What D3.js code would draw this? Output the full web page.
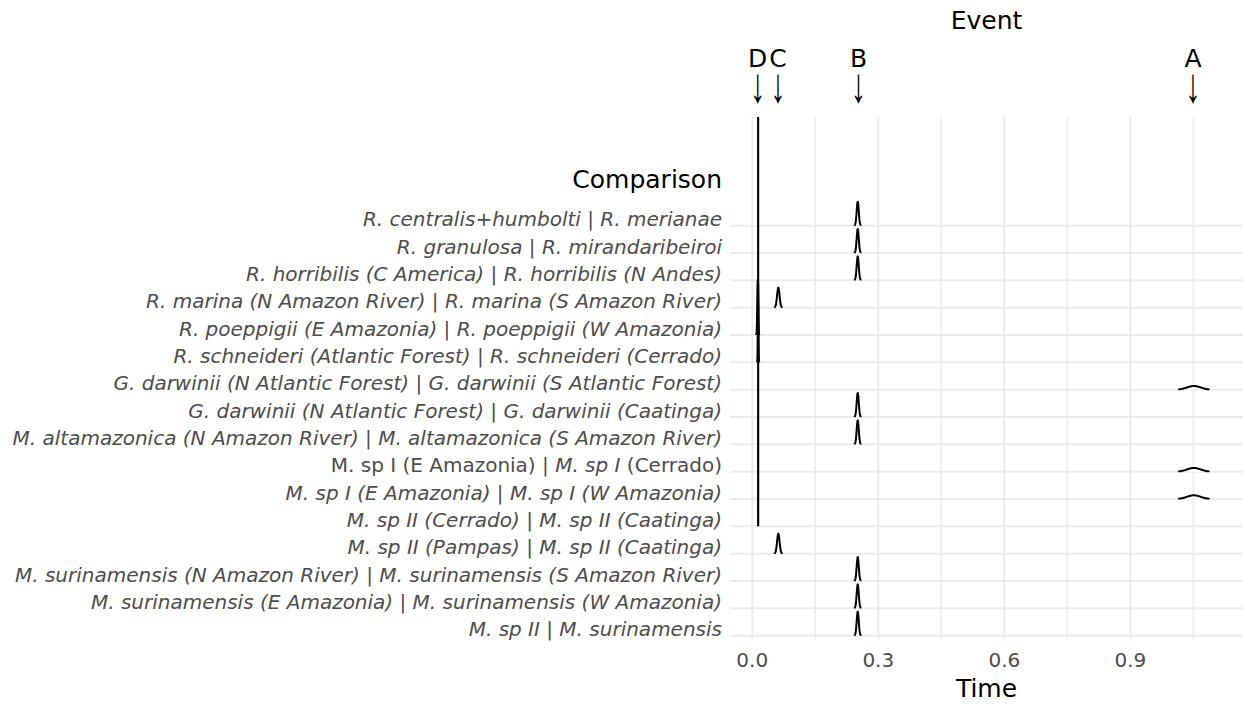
<!DOCTYPE html>
<html>
<head>
<meta charset="utf-8">
<script src="https://cdn.jsdelivr.net/npm/d3@7/dist/d3.min.js"></script>
<style>
  html, body { margin: 0; padding: 0; background: #ffffff; }
  svg { display: block; font-family: "DejaVu Sans", sans-serif; }
  .arrow { -webkit-font-smoothing: antialiased; text-rendering: geometricPrecision; }
</style>
</head>
<body>
<svg id="chart" width="1243" height="705"></svg>
<script>
// Comparisons (top to bottom); *...* marks italic runs
const rowLabels = [
  "*R. centralis+humbolti | R. merianae*",
  "*R. granulosa | R. mirandaribeiroi*",
  "*R. horribilis (C America) | R. horribilis (N Andes)*",
  "*R. marina (N Amazon River) | R. marina (S Amazon River)*",
  "*R. poeppigii (E Amazonia) | R. poeppigii (W Amazonia)*",
  "*R. schneideri (Atlantic Forest) | R. schneideri (Cerrado)*",
  "*G. darwinii (N Atlantic Forest) | G. darwinii (S Atlantic Forest)*",
  "*G. darwinii (N Atlantic Forest) | G. darwinii (Caatinga)*",
  "*M. altamazonica (N Amazon River) | M. altamazonica (S Amazon River)*",
  "M. sp I (E Amazonia) | *M. sp I* (Cerrado)",
  "*M. sp I (E Amazonia) | M. sp I (W Amazonia)*",
  "*M. sp II (Cerrado) | M. sp II (Caatinga)*",
  "*M. sp II (Pampas) | M. sp II (Caatinga)*",
  "*M. surinamensis (N Amazon River) | M. surinamensis (S Amazon River)*",
  "*M. surinamensis (E Amazonia) | M. surinamensis (W Amazonia)*",
  "*M. sp II | M. surinamensis*"
];

// Event assigned to each comparison, posterior centre and spread of divergence time
const rowEvent  = ["B", "B", "B", "C", "D", "D", "A", "B", "B", "A", "A", "D", "C", "B", "B", "B"];
const rowCenter = [0.251, 0.251, 0.251, 0.062, 0.013, 0.014, 1.051, 0.251, 0.251, 1.051, 1.051, 0.014, 0.062, 0.251, 0.251, 0.251];
const rowSpread = [0.0025, 0.0025, 0.0025, 0.003, 0.00109, 0.00075, 0.016, 0.0025, 0.0025, 0.016, 0.016, 0.0000855, 0.003, 0.0025, 0.0025, 0.0025];

// Events shown on the top axis
const eventNames = ["D", "C", "B", "A"];
const eventTimes = [0.013, 0.061, 0.253, 1.049];

// Time axis
const majorTicks = [0, 0.3, 0.6, 0.9];
const minorTicks = [0.15, 0.45, 0.75, 1.05];
const timeDomain = [-0.053, 1.168];

const svg = d3.select("#chart");
const panel = { left: 730, right: 1243, top: 117, bottom: 639 };

const x = d3.scaleLinear().domain(timeDomain).range([panel.left, panel.right]);
const y = d3.scalePoint().domain(d3.range(rowLabels.length))
  .range([panel.top + 108.7, panel.bottom - 3.3]);

// density units -> pixels of ridge height
const ridgeHeight = d3.scaleLinear().domain([0, 160]).range([0, 24]);

// grid
const grid = svg.append("g");
grid.selectAll("line.minor").data(minorTicks).join("line")
  .attr("x1", d => x(d)).attr("x2", d => x(d))
  .attr("y1", panel.top).attr("y2", panel.bottom)
  .attr("stroke", "#ebebeb").attr("stroke-width", 1.6);
grid.selectAll("line.major").data(majorTicks).join("line")
  .attr("x1", d => x(d)).attr("x2", d => x(d))
  .attr("y1", panel.top).attr("y2", panel.bottom)
  .attr("stroke", "#ebebeb").attr("stroke-width", 2);
grid.selectAll("line.row").data(d3.range(rowLabels.length)).join("line")
  .attr("x1", panel.left).attr("x2", panel.right)
  .attr("y1", d => y(d)).attr("y2", d => y(d))
  .attr("stroke", "#ebebeb").attr("stroke-width", 2);

// ridges
svg.append("clipPath").attr("id", "panel-clip").append("rect")
  .attr("x", panel.left).attr("y", panel.top)
  .attr("width", panel.right - panel.left).attr("height", panel.bottom - panel.top);

function ridgePoints(mu, sd) {
  const pts = [];
  const n = 400;
  for (let i = 0; i <= n; i++) {
    const t = mu - 4 * sd + (8 * sd) * i / n;
    const z = (t - mu) / sd;
    const dens = Math.exp(-0.5 * z * z) / (sd * Math.sqrt(2 * Math.PI));
    pts.push([t, dens]);
  }
  const vis = pts.filter(p => ridgeHeight(p[1]) >= 0.3);
  const lo = vis[0][0], hi = vis[vis.length - 1][0];
  return [[lo, 0], ...vis, [hi, 0]];
}

const ridges = svg.append("g").attr("clip-path", "url(#panel-clip)");
d3.range(rowLabels.length).forEach(i => {
  const pts = ridgePoints(rowCenter[i], rowSpread[i]);
  const base = y(i);
  ridges.append("path")
    .attr("d", d3.line().x(d => x(d[0])).y(d => base - ridgeHeight(d[1]))(pts))
    .attr("fill", "#ffffff")
    .attr("stroke", "#000000")
    .attr("stroke-width", 2)
    .attr("stroke-linejoin", "round")
    .attr("data-event", rowEvent[i]);
});

// comparison labels
const labels = svg.append("g")
  .attr("font-size", 20).attr("fill", "#4d4d4d").attr("text-anchor", "end");
rowLabels.forEach((lab, i) => {
  const t = labels.append("text").attr("x", 722).attr("y", y(i) + 0.5);
  lab.split("*").forEach((part, k) => {
    if (!part) return;
    t.append("tspan").text(part).attr("font-style", k % 2 === 1 ? "italic" : "normal");
  });
});

// bottom axis labels
svg.append("g").selectAll("text").data(majorTicks).join("text")
  .attr("x", d => x(d)).attr("y", 667)
  .attr("text-anchor", "middle").attr("font-size", 20).attr("fill", "#4d4d4d")
  .text(d => d3.format(".1f")(d));

// top event axis: letter with a long thin down arrow beneath it
const ev = svg.append("g").attr("text-anchor", "middle").attr("fill", "#000000");
ev.selectAll("text.name").data(eventNames).join("text")
  .attr("x", (d, i) => x(eventTimes[i])).attr("y", 67)
  .attr("font-size", 25).text(d => d);
ev.selectAll("text.arrow").data(eventNames).join("text")
  .attr("class", "arrow")
  .attr("transform", (d, i) => `translate(${x(eventTimes[i])},102) scale(1.1,1.75)`)
  .attr("font-family", "'Liberation Sans', sans-serif")
  .attr("font-size", 28).attr("fill", "#000000").text("\u2193");

// titles
const cx = (panel.left + panel.right) / 2;
svg.append("text").attr("x", cx).attr("y", 29).attr("text-anchor", "middle")
  .attr("font-size", 25).text("Event");
svg.append("text").attr("x", cx).attr("y", 697).attr("text-anchor", "middle")
  .attr("font-size", 25).text("Time");
svg.append("text").attr("x", 722).attr("y", 188).attr("text-anchor", "end")
  .attr("font-size", 25).text("Comparison");
</script>
</body>
</html>
